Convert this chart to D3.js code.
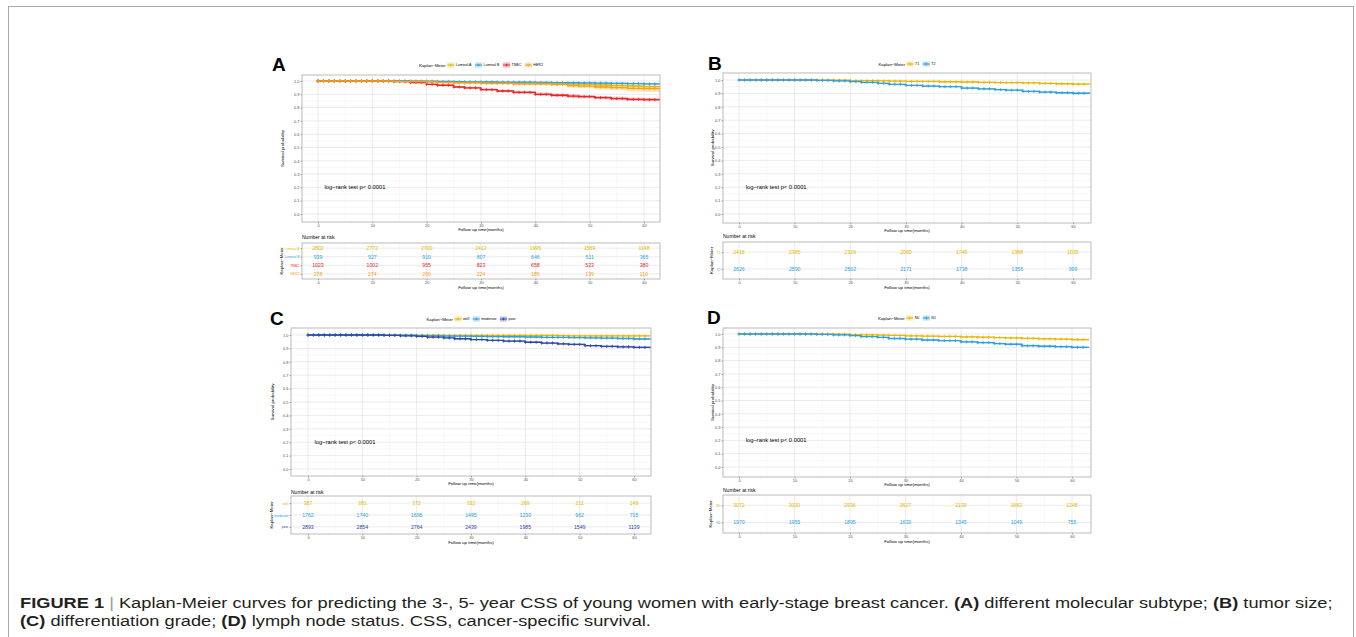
<!DOCTYPE html>
<html>
<head>
<meta charset="utf-8">
<script src="https://cdn.jsdelivr.net/npm/d3@7"></script>
<style>
  body { margin: 0; background: #fff; }
  text { font-family: "Liberation Sans", Arial, sans-serif; }
</style>
</head>
<body>
<svg id="fig" width="1356" height="637"></svg>
<script>
// ---- data ----
const knotMonths = [0, 14, 17, 20, 22, 25, 27, 30, 33, 36, 40, 43, 46, 48, 51, 54, 57, 60, 63];
const censorMonths = [0, 1, 2, 3, 4, 5, 6, 7, 8, 9, 10, 11, 12, 13, 14, 15, 16, 17, 18, 19, 20,
    21, 22, 23, 24, 25, 26, 27, 28, 29, 30, 31, 32, 33, 34, 35, 36, 37, 38, 39, 40, 41,
    42, 43, 44, 45, 46, 47, 48, 49, 50, 51, 52, 53, 54, 55, 56, 57, 58, 59, 60, 61, 62];
const riskMonths = [0, 10, 20, 30, 40, 50, 60];
const xTickValues = [0, 10, 20, 30, 40, 50, 60];
const yTickValues = [0, 0.1, 0.2, 0.3, 0.4, 0.5, 0.6, 0.7, 0.8, 0.9, 1.0];

// A: molecular subtype
const subtypeNames = ["Luminal A", "Luminal B", "TNBC", "HER2"];
const survLumA = [1.0, .999, .998, .996, .994, .991, .989, .987, .985, .983, .981, .979, .977, .975, .970, .966, .962, .958, .956];
const ciLumA   = [0, .001, .001, .002, .002, .003, .003, .003, .003, .004, .004, .004, .005, .005, .006, .006, .007, .007, .008];
const survLumB = [1.0, 1.0, .999, .998, .997, .995, .994, .993, .992, .991, .989, .988, .987, .986, .984, .982, .980, .978, .976];
const ciLumB   = [0, 0, .001, .002, .002, .003, .003, .004, .004, .004, .005, .005, .005, .006, .006, .006, .007, .007, .008];
const survTNBC = [1.0, .995, .988, .975, .968, .955, .948, .935, .925, .915, .900, .893, .887, .883, .875, .868, .862, .860, .858];
const ciTNBC   = [0, .003, .004, .006, .007, .008, .008, .009, .010, .010, .011, .011, .012, .012, .012, .013, .013, .013, .013];
const survHER2 = [1.0, .996, .996, .993, .990, .986, .986, .982, .982, .978, .978, .974, .965, .962, .955, .950, .945, .942, .942];
const ciHER2   = [0, .004, .004, .005, .006, .008, .008, .009, .009, .010, .010, .011, .013, .014, .018, .020, .024, .025, .025];
const riskLumA = [2802, 2772, 2700, 2412, 1995, 1569, 1148];
const riskLumB = [939, 927, 910, 807, 646, 511, 365];
const riskTNBC = [1023, 1002, 955, 823, 658, 523, 380];
const riskHER2 = [278, 274, 266, 224, 185, 139, 110];

// B: tumor size
const sizeNames = ["T1", "T2"];
const survT1 = [1.0, .999, .998, .996, .995, .993, .992, .990, .989, .987, .985, .983, .981, .980, .978, .975, .972, .969, .967];
const ciT1   = [0, .001, .001, .002, .002, .002, .003, .003, .003, .003, .004, .004, .004, .004, .005, .005, .005, .006, .006];
const survT2 = [1.0, .997, .993, .988, .983, .975, .968, .960, .955, .950, .940, .934, .928, .924, .915, .910, .905, .901, .898];
const ciT2   = [0, .002, .002, .003, .003, .004, .004, .005, .005, .005, .006, .006, .006, .006, .007, .007, .007, .007, .008];
const riskT1 = [2416, 2385, 2329, 2095, 1746, 1388, 1035];
const riskT2 = [2626, 2590, 2502, 2171, 1738, 1356, 999];

// C: differentiation grade
const gradeNames = ["well", "moderate", "poor"];
const survWell = [1.0, 1.0, .999, .998, .998, .997, .997, .997, .997, .997, .997, .997, .996, .993, .993, .993, .993, .993, .993];
const ciWell   = [0, 0, .001, .002, .002, .002, .002, .002, .002, .002, .002, .002, .003, .004, .004, .004, .004, .004, .004];
const survModerate = [1.0, .999, .998, .996, .994, .992, .991, .990, .988, .987, .985, .983, .982, .981, .979, .977, .974, .970, .966];
const ciModerate   = [0, .001, .001, .002, .002, .002, .003, .003, .003, .003, .004, .004, .004, .004, .005, .005, .005, .006, .006];
const survPoor = [1.0, .997, .994, .989, .984, .978, .972, .966, .960, .955, .946, .940, .934, .930, .920, .915, .912, .908, .905];
const ciPoor   = [0, .001, .002, .002, .003, .003, .004, .004, .004, .005, .005, .005, .006, .006, .006, .007, .007, .007, .007];
const riskWell = [387, 381, 372, 332, 269, 211, 149];
const riskModerate = [1762, 1740, 1695, 1495, 1230, 962, 715];
const riskPoor = [2893, 2854, 2764, 2439, 1985, 1549, 1139];

// D: lymph node status
const nodeNames = ["N0", "N1"];
const survN0 = [1.0, .999, .998, .996, .994, .991, .989, .986, .984, .982, .978, .976, .973, .971, .967, .964, .961, .958, .955];
const ciN0   = [0, .001, .001, .002, .002, .002, .003, .003, .003, .003, .004, .004, .004, .004, .005, .005, .005, .006, .006];
const survN1 = [1.0, .997, .993, .988, .980, .975, .966, .961, .955, .950, .941, .935, .928, .923, .912, .908, .905, .900, .898];
const ciN1   = [0, .002, .002, .003, .003, .004, .004, .005, .005, .005, .006, .006, .006, .006, .007, .007, .007, .007, .008];
const riskN0 = [3072, 3020, 2936, 2627, 2139, 1683, 1248];
const riskN1 = [1970, 1955, 1895, 1639, 1345, 1049, 755];

const yellow = "#E7B800", blue = "#2E9FDF", red = "#E8262A", orange = "#F5A31A", navy = "#2E47A8";

const svg = d3.select("#fig");

// outer frame of the figure
svg.append("rect")
    .attr("x", 8.5).attr("y", 6.5)
    .attr("width", 1345).attr("height", 640)
    .attr("fill", "none").attr("stroke", "#a8a8a8").attr("stroke-width", 1);

function stepAt(surv, t) {
    let v = surv[0];
    for (let i = 0; i < knotMonths.length; i++) {
        if (knotMonths[i] <= t) v = surv[i];
    }
    return v;
}

function styleAxis(sel, size) {
    sel.select(".domain").remove();
    sel.selectAll(".tick line").attr("stroke", "#333").attr("stroke-width", 0.4);
    sel.selectAll("text").style("font-size", size + "px").attr("fill", "#4d4d4d");
}

let clipId = 0;

function drawPanel(cfg) {
    const g = svg.append("g");
    const x = d3.scaleLinear().domain([0, 60]).range([cfg.x0, cfg.x60]);
    const y = d3.scaleLinear().domain([0, 1]).range([cfg.y0, cfg.y1]);
    const pw = cfg.right - cfg.left, ph = cfg.bottom - cfg.top;

    g.append("text")
        .attr("x", cfg.letterX).attr("y", cfg.letterY)
        .style("font-size", "19px").style("font-weight", "bold")
        .text(cfg.letter);

    // grid
    const grid = g.append("g");
    for (let i = 0; i < yTickValues.length - 1; i++) {
        const m = (yTickValues[i] + yTickValues[i + 1]) / 2;
        grid.append("line").attr("x1", cfg.left).attr("x2", cfg.right)
            .attr("y1", y(m)).attr("y2", y(m)).attr("stroke", "#f1f1f1").attr("stroke-width", 0.5);
    }
    for (let i = 0; i < xTickValues.length - 1; i++) {
        const m = (xTickValues[i] + xTickValues[i + 1]) / 2;
        grid.append("line").attr("y1", cfg.top).attr("y2", cfg.bottom)
            .attr("x1", x(m)).attr("x2", x(m)).attr("stroke", "#f1f1f1").attr("stroke-width", 0.5);
    }
    grid.selectAll("line.hy").data(yTickValues).enter().append("line")
        .attr("x1", cfg.left).attr("x2", cfg.right)
        .attr("y1", d => y(d)).attr("y2", d => y(d))
        .attr("stroke", "#e3e3e3").attr("stroke-width", 0.7);
    grid.selectAll("line.vx").data(xTickValues).enter().append("line")
        .attr("y1", cfg.top).attr("y2", cfg.bottom)
        .attr("x1", d => x(d)).attr("x2", d => x(d))
        .attr("stroke", "#e3e3e3").attr("stroke-width", 0.7);

    // clip
    const cid = "clip" + (clipId++);
    g.append("clipPath").attr("id", cid).append("rect")
        .attr("x", cfg.left).attr("y", cfg.top).attr("width", pw).attr("height", ph);
    const plot = g.append("g").attr("clip-path", "url(#" + cid + ")");

    const area = d3.area().curve(d3.curveStepAfter)
        .x(d => x(d.t)).y0(d => y(d.lo)).y1(d => y(d.hi));
    const line = d3.line().curve(d3.curveStepAfter)
        .x(d => x(d.t)).y(d => y(d.s));

    cfg.groups.forEach(grp => {
        const pts = knotMonths.map((t, i) => ({
            t: t, s: grp.surv[i],
            lo: grp.surv[i] - grp.ci[i], hi: Math.min(1, grp.surv[i] + grp.ci[i])
        }));
        plot.append("path").datum(pts).attr("d", area)
            .attr("fill", grp.color).attr("fill-opacity", 0.3);
    });
    cfg.groups.forEach(grp => {
        const pts = knotMonths.map((t, i) => ({t: t, s: grp.surv[i]}));
        plot.append("path").datum(pts).attr("d", line)
            .attr("fill", "none").attr("stroke", grp.color).attr("stroke-width", 1.3);
        plot.selectAll(null).data(censorMonths).enter().append("path")
            .attr("transform", d => `translate(${x(d)},${y(stepAt(grp.surv, d))})`)
            .attr("d", "M-1.6,0H1.6M0,-1.6V1.6")
            .attr("stroke", grp.color).attr("stroke-width", 0.8);
    });

    g.append("rect").attr("x", cfg.left).attr("y", cfg.top)
        .attr("width", pw).attr("height", ph)
        .attr("fill", "none").attr("stroke", "#b3b3b3").attr("stroke-width", 0.9);

    // axes
    g.append("g").attr("transform", `translate(${cfg.left},0)`)
        .call(d3.axisLeft(y).tickValues(yTickValues).tickFormat(d3.format(".1f")).tickSize(1.5).tickPadding(1))
        .call(s => styleAxis(s, 3.9));
    g.append("g").attr("transform", `translate(0,${cfg.bottom})`)
        .call(d3.axisBottom(x).tickValues(xTickValues).tickSize(1.5).tickPadding(0.5))
        .call(s => styleAxis(s, 3.9));

    g.append("text")
        .attr("transform", `translate(${cfg.yTitleX},${(cfg.top + cfg.bottom) / 2})rotate(-90)`)
        .attr("text-anchor", "middle").attr("dy", "0.35em")
        .style("font-size", "4.4px").text("Survival probability");
    g.append("text")
        .attr("x", (cfg.left + cfg.right) / 2).attr("y", cfg.bottom + 8.5)
        .attr("text-anchor", "middle").style("font-size", "4.4px")
        .text("Follow up time(months)");

    g.append("text")
        .attr("x", x(1.2)).attr("y", y(0.2)).attr("dy", "0.35em")
        .style("font-size", "5.8px").text("log\u2212rank test p< 0.0001");

    // legend
    const leg = g.append("g");
    let cx = 0;
    const t0 = leg.append("text").attr("x", 0).attr("dy", "0.35em")
        .style("font-size", "4.3px").text("Kaplan\u2212Meier");
    cx += t0.node().getComputedTextLength() + 1.5;
    cfg.groups.forEach(grp => {
        leg.append("rect").attr("x", cx).attr("y", -2.6).attr("width", 7).attr("height", 5.2)
            .attr("fill", grp.color).attr("fill-opacity", 0.3);
        leg.append("line").attr("x1", cx).attr("x2", cx + 7).attr("y1", 0).attr("y2", 0)
            .attr("stroke", grp.color).attr("stroke-width", 0.9);
        leg.append("path").attr("transform", `translate(${cx + 3.5},0)`)
            .attr("d", "M-1.4,0H1.4M0,-1.4V1.4").attr("stroke", grp.color).attr("stroke-width", 0.7);
        cx += 8.5;
        const lt = leg.append("text").attr("x", cx).attr("dy", "0.35em")
            .style("font-size", "3.6px").text(grp.name);
        cx += lt.node().getComputedTextLength() + 3.5;
    });
    leg.attr("transform", `translate(${(cfg.left + cfg.right) / 2 - (cx - 3.5) / 2},${cfg.legendY})`);

    // risk table
    const tb = svg.append("g");
    const rows = d3.scalePoint().domain(cfg.groups.map(d => d.name))
        .range([cfg.tblTop, cfg.tblBottom]).padding(0.6);

    tb.append("text").attr("x", cfg.left).attr("y", cfg.tblTitleY)
        .style("font-size", "5px").text("Number at risk");

    for (let i = 0; i < xTickValues.length - 1; i++) {
        const m = (xTickValues[i] + xTickValues[i + 1]) / 2;
        tb.append("line").attr("y1", cfg.tblTop).attr("y2", cfg.tblBottom)
            .attr("x1", x(m)).attr("x2", x(m)).attr("stroke", "#f1f1f1").attr("stroke-width", 0.5);
    }
    tb.selectAll(null).data(xTickValues).enter().append("line")
        .attr("y1", cfg.tblTop).attr("y2", cfg.tblBottom)
        .attr("x1", d => x(d)).attr("x2", d => x(d))
        .attr("stroke", "#e3e3e3").attr("stroke-width", 0.7);
    tb.selectAll(null).data(cfg.groups).enter().append("line")
        .attr("x1", cfg.left).attr("x2", cfg.right)
        .attr("y1", d => rows(d.name)).attr("y2", d => rows(d.name))
        .attr("stroke", "#e3e3e3").attr("stroke-width", 0.7);

    cfg.groups.forEach(grp => {
        tb.selectAll(null).data(riskMonths).enter().append("text")
            .attr("x", d => x(d)).attr("y", rows(grp.name)).attr("dy", "0.35em")
            .attr("text-anchor", "middle").attr("fill", grp.color)
            .style("font-size", "5.2px")
            .text((d, i) => grp.risk[i]);
    });

    tb.append("rect").attr("x", cfg.left).attr("y", cfg.tblTop)
        .attr("width", pw).attr("height", cfg.tblBottom - cfg.tblTop)
        .attr("fill", "none").attr("stroke", "#b3b3b3").attr("stroke-width", 0.9);

    const ya = tb.append("g").attr("transform", `translate(${cfg.left},0)`)
        .call(d3.axisLeft(rows).tickSize(1.5).tickPadding(1))
        .call(s => styleAxis(s, 3.4));
    ya.selectAll("text").attr("fill", (d, i) => cfg.groups[i].color);

    tb.append("g").attr("transform", `translate(0,${cfg.tblBottom})`)
        .call(d3.axisBottom(x).tickValues(xTickValues).tickSize(1.5).tickPadding(0.5))
        .call(s => styleAxis(s, 3.9));

    tb.append("text")
        .attr("transform", `translate(${cfg.tblYTitleX},${(cfg.tblTop + cfg.tblBottom) / 2})rotate(-90)`)
        .attr("text-anchor", "middle").attr("dy", "0.35em")
        .style("font-size", "4.4px").text("Kaplan\u2212Meier");
    tb.append("text")
        .attr("x", (cfg.left + cfg.right) / 2).attr("y", cfg.tblBottom + 9.5)
        .attr("text-anchor", "middle").style("font-size", "4.4px")
        .text("Follow up time(months)");
}

drawPanel({
    letter: "A", letterX: 272, letterY: 70.5,
    left: 302, right: 660, top: 75, bottom: 222,
    x0: 318, x60: 644, y0: 214, y1: 81, legendY: 65, yTitleX: 282,
    tblTitleY: 238.5, tblTop: 243, tblBottom: 279, tblYTitleX: 281,
    groups: [
        {name: subtypeNames[0], color: yellow, surv: survLumA, ci: ciLumA, risk: riskLumA},
        {name: subtypeNames[1], color: blue, surv: survLumB, ci: ciLumB, risk: riskLumB},
        {name: subtypeNames[2], color: red, surv: survTNBC, ci: ciTNBC, risk: riskTNBC},
        {name: subtypeNames[3], color: orange, surv: survHER2, ci: ciHER2, risk: riskHER2}
    ]
});

drawPanel({
    letter: "B", letterX: 708, letterY: 69.5,
    left: 723, right: 1091, top: 73, bottom: 223,
    x0: 739, x60: 1073, y0: 214, y1: 80, legendY: 64, yTitleX: 712,
    tblTitleY: 238, tblTop: 242, tblBottom: 279, tblYTitleX: 711,
    groups: [
        {name: sizeNames[0], color: yellow, surv: survT1, ci: ciT1, risk: riskT1},
        {name: sizeNames[1], color: blue, surv: survT2, ci: ciT2, risk: riskT2}
    ]
});

drawPanel({
    letter: "C", letterX: 270, letterY: 325,
    left: 291, right: 651, top: 328, bottom: 476,
    x0: 308, x60: 634, y0: 469, y1: 335, legendY: 319, yTitleX: 272,
    tblTitleY: 494, tblTop: 496, tblBottom: 534, tblYTitleX: 271,
    groups: [
        {name: gradeNames[0], color: yellow, surv: survWell, ci: ciWell, risk: riskWell},
        {name: gradeNames[1], color: blue, surv: survModerate, ci: ciModerate, risk: riskModerate},
        {name: gradeNames[2], color: navy, surv: survPoor, ci: ciPoor, risk: riskPoor}
    ]
});

drawPanel({
    letter: "D", letterX: 707, letterY: 324,
    left: 723, right: 1091, top: 328, bottom: 477,
    x0: 739, x60: 1072, y0: 467, y1: 334, legendY: 318, yTitleX: 712,
    tblTitleY: 492, tblTop: 495, tblBottom: 533, tblYTitleX: 710,
    groups: [
        {name: nodeNames[0], color: yellow, surv: survN0, ci: ciN0, risk: riskN0},
        {name: nodeNames[1], color: blue, surv: survN1, ci: ciN1, risk: riskN1}
    ]
});

// caption
const cap = svg.append("g");
const line1 = cap.append("text").attr("x", 0).attr("y", 608)
    .style("font-size", "14.5px").attr("fill", "#231f20");
[
    {t: "FIGURE 1", b: true},
    {t: " | ", c: "#9a9a9a"},
    {t: "Kaplan-Meier curves for predicting the 3-, 5- year CSS of young women with early-stage breast cancer. "},
    {t: "(A)", b: true},
    {t: " different molecular subtype; "},
    {t: "(B)", b: true},
    {t: " tumor size;"}
].forEach(p => {
    const ts = line1.append("tspan").text(p.t);
    if (p.b) ts.style("font-weight", "bold");
    if (p.c) ts.attr("fill", p.c);
});
const line2 = cap.append("text").attr("x", 0).attr("y", 626.5)
    .style("font-size", "14.5px").attr("fill", "#231f20");
[
    {t: "(C)", b: true},
    {t: " differentiation grade; "},
    {t: "(D)", b: true},
    {t: " lymph node status. CSS, cancer-specific survival."}
].forEach(p => {
    const ts = line2.append("tspan").text(p.t);
    if (p.b) ts.style("font-weight", "bold");
});
const natural = line1.node().getComputedTextLength();
cap.attr("transform", `translate(20,0) scale(${1313 / natural},1)`);
</script>
</body>
</html>
